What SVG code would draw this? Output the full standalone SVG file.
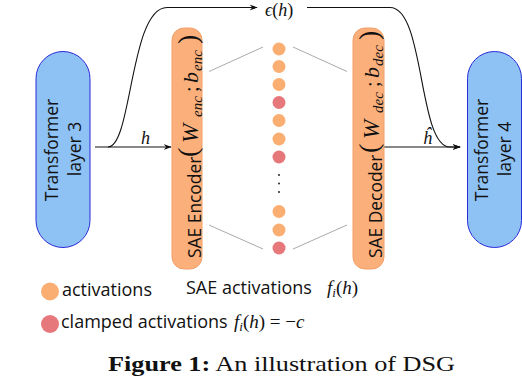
<svg xmlns="http://www.w3.org/2000/svg" width="522" height="380" viewBox="0 0 522 380">
<style>
.tf{fill:#8ec1f4;stroke:#2a2ad8;stroke-width:1}
.sae{fill:#fbb07c;stroke:#f3a068;stroke-width:1}
.lbl{font-family:"Open Sans","Noto Sans",sans-serif;fill:#111}
.m{font-family:"Liberation Serif",serif;font-style:italic;fill:#111}
.mu{font-family:"Liberation Serif",serif;fill:#111}
.act{fill:#fbae72}
.clp{fill:#e6777a}
.gl{stroke:#aaaaaa;stroke-width:1;fill:none}
.ar{stroke:#111;stroke-width:1.1;fill:none;marker-end:url(#ah)}
</style>
<defs>
<marker id="ah" viewBox="0 0 10 10" refX="9" refY="5" markerWidth="8" markerHeight="8" markerUnits="userSpaceOnUse" orient="auto">
<path d="M0,1.5 L10,5 L0,8.5 L3,5 Z" fill="#111"/>
</marker>
</defs>

<g id="connectors">
<path class="ar" d="M95,147 L171,147"/>
<path class="ar" d="M108,147 C132,147 130,7.5 167,7.5 L257,7.5"/>
<path class="ar" d="M307,7.5 L390,7.5 C425,7.5 418,147 450,147 L460,147"/>
<path class="ar" d="M384,147 L460,147"/>
<path class="gl" d="M209,71.5 L263,47 M209,225 L263,249 M293,47 L347,71.5 M293,249 L347,225"/>
<text class="m" x="141" y="144" font-size="18">h</text>
<text class="m" x="423" y="144" font-size="18">ĥ</text>
<text x="265" y="16" font-size="18"><tspan class="m">ϵ</tspan><tspan class="mu">(</tspan><tspan class="m">h</tspan><tspan class="mu">)</tspan></text>
</g>

<g id="transformer3">
<rect class="tf" x="36" y="51.5" width="54" height="196" rx="27" ry="27"/>
<text class="lbl" font-size="17.5" text-anchor="middle" transform="translate(58,150) rotate(-90)">Transformer</text>
<text class="lbl" font-size="17.5" text-anchor="middle" transform="translate(81,149) rotate(-90)">layer 3</text>
</g>

<g id="encoder">
<rect class="sae" x="172" y="28" width="30" height="241" rx="12" ry="12"/>
<text transform="translate(200.5,270) rotate(-90)">
<tspan class="lbl" font-size="17.4" x="12" y="0">SAE Encoder</tspan>
<tspan class="mu" font-size="28" x="113" y="-4">(</tspan>
<tspan class="m" font-size="23" x="127" y="-3">W</tspan>
<tspan class="m" font-size="15" x="153" y="1">enc</tspan>
<tspan class="mu" font-size="20" x="178" y="-3">;</tspan>
<tspan class="m" font-size="22" x="187" y="-3">b</tspan>
<tspan class="m" font-size="15" x="199" y="1">enc</tspan>
<tspan class="mu" font-size="28" x="226" y="-4">)</tspan>
</text>
</g>

<g id="activations">
<circle class="act" cx="279" cy="49" r="6.5"/>
<circle class="act" cx="279" cy="66.5" r="6.5"/>
<circle class="act" cx="279" cy="84.5" r="6.5"/>
<circle class="clp" cx="279" cy="102.5" r="6.5"/>
<circle class="act" cx="279" cy="120.5" r="6.5"/>
<circle class="act" cx="279" cy="139" r="6.5"/>
<circle class="clp" cx="279" cy="157" r="6.5"/>
<circle cx="279" cy="175" r="0.9" fill="#111"/>
<circle cx="279" cy="183.5" r="0.9" fill="#111"/>
<circle cx="279" cy="192" r="0.9" fill="#111"/>
<circle class="act" cx="279" cy="211.5" r="6.5"/>
<circle class="act" cx="279" cy="230" r="6.5"/>
<circle class="clp" cx="279" cy="248" r="6.5"/>
</g>

<g id="decoder">
<rect class="sae" x="353" y="28" width="31" height="241" rx="12" ry="12"/>
<text transform="translate(382,270) rotate(-90)">
<tspan class="lbl" font-size="17.4" x="12" y="0">SAE Decoder</tspan>
<tspan class="mu" font-size="28" x="117" y="-4">(</tspan>
<tspan class="m" font-size="23" x="131" y="-3">W</tspan>
<tspan class="m" font-size="15" x="157" y="1">dec</tspan>
<tspan class="mu" font-size="20" x="183" y="-3">;</tspan>
<tspan class="m" font-size="22" x="192" y="-3">b</tspan>
<tspan class="m" font-size="15" x="204" y="1">dec</tspan>
<tspan class="mu" font-size="28" x="230" y="-4">)</tspan>
</text>
</g>

<g id="transformer4">
<rect class="tf" x="467.5" y="51.5" width="54" height="196" rx="27" ry="27"/>
<text class="lbl" font-size="17.5" text-anchor="middle" transform="translate(487.5,150) rotate(-90)">Transformer</text>
<text class="lbl" font-size="17.5" text-anchor="middle" transform="translate(511,149) rotate(-90)">layer 4</text>
</g>

<g id="legend">
<circle class="act" cx="50" cy="291.5" r="9"/>
<text class="lbl" font-size="18" x="62" y="296">activations</text>
<circle class="clp" cx="50" cy="324" r="9"/>
<text class="lbl" font-size="18" x="61" y="328">clamped activations</text>
<text font-size="19" x="234" y="328"><tspan class="m">f</tspan><tspan class="m" font-size="13" dy="3">i</tspan><tspan class="mu" dy="-3">(</tspan><tspan class="m">h</tspan><tspan class="mu">) = −</tspan><tspan class="m">c</tspan></text>
<text class="lbl" font-size="18" x="186" y="294">SAE activations</text>
<text font-size="19" x="327" y="294"><tspan class="m">f</tspan><tspan class="m" font-size="13" dy="3">i</tspan><tspan class="mu" dy="-3">(</tspan><tspan class="m">h</tspan><tspan class="mu">)</tspan></text>
</g>

<text font-family="'Liberation Serif',serif" font-size="22" fill="#111" x="108" y="371" textLength="347" lengthAdjust="spacingAndGlyphs"><tspan font-weight="bold">Figure 1:</tspan> An illustration of DSG</text>
</svg>
